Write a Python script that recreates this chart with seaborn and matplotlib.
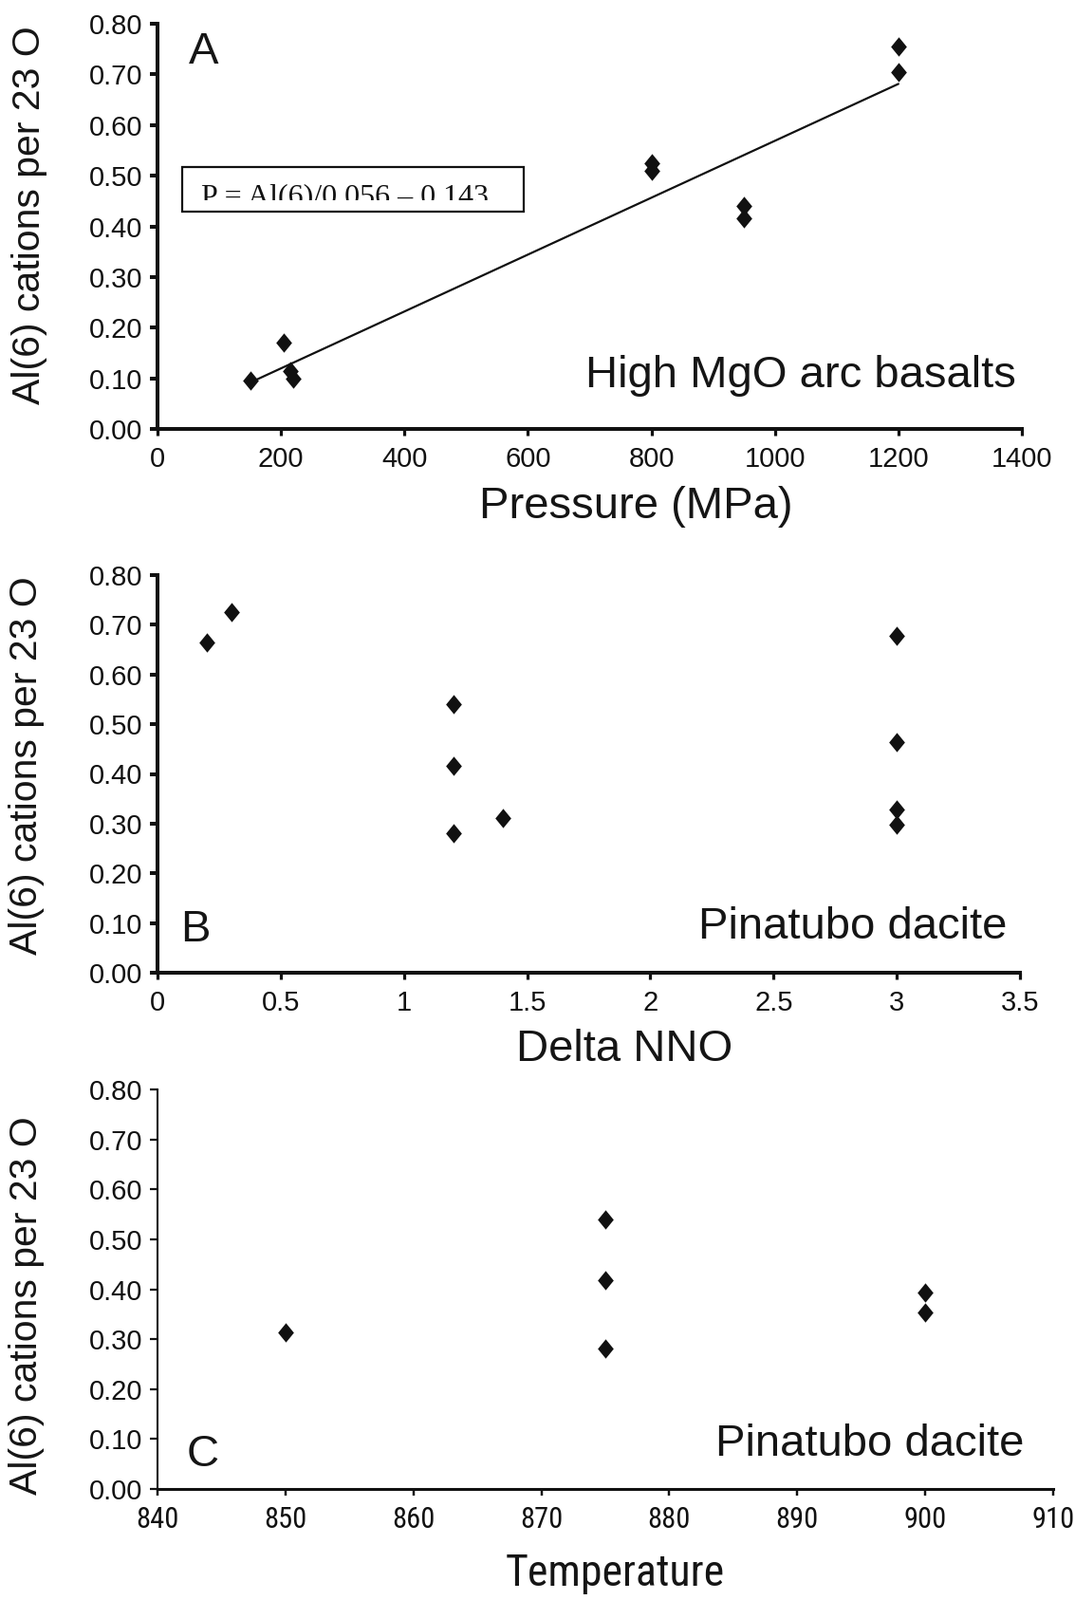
import matplotlib
matplotlib.use("Agg")
import matplotlib.pyplot as plt
import seaborn as sns
import pandas as pd
from matplotlib import font_manager
from matplotlib.patches import Rectangle
from matplotlib.transforms import Bbox

# ---------------- data ----------------
# Panel A: High MgO arc basalts
pressure_mpa = [150, 205, 215, 220, 800, 800, 950, 950, 1200, 1200]
al6_a = [0.095, 0.170, 0.115, 0.100, 0.525, 0.510, 0.440, 0.415, 0.755, 0.705]

# Panel B: Pinatubo dacite vs Delta NNO
delta_nno = [0.2, 0.3, 1.2, 1.2, 1.2, 1.4, 3.0, 3.0, 3.0, 3.0]
al6_b = [0.665, 0.725, 0.540, 0.416, 0.281, 0.311, 0.677, 0.464, 0.329, 0.297]

# Panel C: Pinatubo dacite vs Temperature
temperature = [850, 875, 875, 875, 900, 900]
al6_c = [0.313, 0.540, 0.418, 0.282, 0.394, 0.353]

y_ticks = [0.0, 0.1, 0.2, 0.3, 0.4, 0.5, 0.6, 0.7, 0.8]
y_tick_labels = ["0.00", "0.10", "0.20", "0.30", "0.40", "0.50", "0.60", "0.70", "0.80"]
x_ticks_a = [0, 200, 400, 600, 800, 1000, 1200, 1400]
x_ticks_b = [0, 0.5, 1, 1.5, 2, 2.5, 3, 3.5]
x_tick_labels_b = ["0", "0.5", "1", "1.5", "2", "2.5", "3", "3.5"]
x_ticks_c = [840, 850, 860, 870, 880, 890, 900, 910]

y_label = "Al(6) cations per 23 O"
equation = "P = Al(6)/0.056 \u2013 0.143"

df_a = pd.DataFrame({"P": pressure_mpa, "Al": al6_a})
df_b = pd.DataFrame({"NNO": delta_nno, "Al": al6_b})
df_c = pd.DataFrame({"T": temperature, "Al": al6_c})

# ---------------- style ----------------
sns.set_style("ticks")
REG = ["Liberation Sans", "DejaVu Sans"]
installed = {f.name for f in font_manager.fontManager.ttflist}
narrow_name = None
for cand in ["Liberation Sans Narrow", "Arial Narrow", "Roboto Condensed",
             "Open Sans Condensed", "DejaVu Sans Condensed"]:
    if cand in installed:
        narrow_name = cand
        break
if narrow_name:
    NARROW = [narrow_name, "Liberation Sans", "DejaVu Sans"]
    c_tick_size, c_label_size = 22, 33
else:
    NARROW = REG
    c_tick_size, c_label_size = 19, 28.5

plt.rcParams["font.family"] = REG
plt.rcParams["text.color"] = "#151515"
plt.rcParams["axes.labelcolor"] = "#151515"

W, H = 1133, 1686
fig = plt.figure(figsize=(W / 100, H / 100), dpi=100, facecolor="white")


def add_axes(left, right, top, bottom):
    return fig.add_axes([left / W, 1 - bottom / H, (right - left) / W, (bottom - top) / H])


ax_a = add_axes(166, 1077, 25, 452)
ax_b = add_axes(166, 1075, 606, 1025)
ax_c = add_axes(166, 1110, 1148, 1569)

diamond = [(0, 1), (0.82, 0), (0, -1), (-0.82, 0), (0, 1)]
mk = dict(marker=diamond, s=215, color="#111111", linewidth=0, legend=False)

sns.scatterplot(data=df_a, x="P", y="Al", ax=ax_a, **mk)
sns.regplot(data=df_a, x="P", y="Al", ax=ax_a, scatter=False, ci=None,
            truncate=True, line_kws=dict(color="#111111", lw=1.6))
sns.scatterplot(data=df_b, x="NNO", y="Al", ax=ax_b, **mk)
sns.scatterplot(data=df_c, x="T", y="Al", ax=ax_c, **mk)


def style_axis(ax, xlim, xticks, xticklabels, xfont, xsize, spine_left, spine_bottom):
    ax.set_xlim(*xlim)
    ax.set_ylim(0, 0.8)
    ax.set_yticks(y_ticks)
    ax.set_yticklabels(y_tick_labels, fontsize=21, family=REG)
    ax.set_xticks(xticks)
    ax.set_xticklabels(xticklabels, fontsize=xsize, family=xfont)
    for s in ["top", "right"]:
        ax.spines[s].set_visible(False)
    ax.spines["left"].set_linewidth(spine_left)
    ax.spines["bottom"].set_linewidth(spine_bottom)
    ax.spines["left"].set_color("#111111")
    ax.spines["bottom"].set_color("#111111")
    ax.tick_params(axis="y", direction="out", length=6, width=max(spine_left, 1.6),
                   pad=5, colors="#111111")
    ax.tick_params(axis="x", direction="out", length=5, width=max(spine_bottom * 0.8, 1.6),
                   pad=8, colors="#111111")
    ax.set_facecolor("white")


style_axis(ax_a, (0, 1400), x_ticks_a, [str(v) for v in x_ticks_a], REG, 21, 2.9, 2.9)
style_axis(ax_b, (0, 3.5), x_ticks_b, x_tick_labels_b, REG, 21, 2.9, 2.9)
style_axis(ax_c, (840, 910), x_ticks_c, [str(v) for v in x_ticks_c], NARROW, c_tick_size, 1.5, 2.2)

for ax in (ax_a, ax_b, ax_c):
    for coll in ax.collections:
        coll.set_clip_on(False)

# axis labels
ax_a.set_ylabel(y_label, fontsize=29.5, family=REG)
ax_b.set_ylabel(y_label, fontsize=29.5, family=REG)
ax_c.set_ylabel(y_label, fontsize=29.5, family=REG)
ax_a.yaxis.set_label_coords(-0.127, 0.527)
ax_b.yaxis.set_label_coords(-0.131, 0.52)
ax_c.yaxis.set_label_coords(-0.126, 0.46)

ax_a.set_xlabel("Pressure (MPa)", fontsize=34, family=REG)
ax_b.set_xlabel("Delta NNO", fontsize=34, family=REG)
ax_c.set_xlabel("Temperature", fontsize=c_label_size, family=NARROW)
ax_a.xaxis.set_label_coords(0.554, -0.14)
ax_b.xaxis.set_label_coords(0.541, -0.14)
ax_c.xaxis.set_label_coords(0.511, -0.16)
for ax in (ax_a, ax_b, ax_c):
    ax.xaxis.label.set_verticalalignment("top")

# panel annotations
ax_a.text(0.036, 0.902, "A", transform=ax_a.transAxes, fontsize=34, va="baseline", ha="left")
ax_a.text(0.993, 0.103, "High MgO arc basalts", transform=ax_a.transAxes, fontsize=34,
          va="baseline", ha="right")
ax_b.text(0.027, 0.079, "B", transform=ax_b.transAxes, fontsize=34, va="baseline", ha="left")
ax_b.text(0.985, 0.086, "Pinatubo dacite", transform=ax_b.transAxes, fontsize=34,
          va="baseline", ha="right")
ax_c.text(0.032, 0.057, "C", transform=ax_c.transAxes, fontsize=34, va="baseline", ha="left")
ax_c.text(0.968, 0.083, "Pinatubo dacite", transform=ax_c.transAxes, fontsize=34,
          va="baseline", ha="right")

# equation box (text clipped at its lower part as in the original)
box = Rectangle((192 / W, 1 - 223 / H), 360 / W, 47 / H, transform=fig.transFigure,
                fill=True, facecolor="white", edgecolor="#111111", lw=1.6, zorder=5)
fig.add_artist(box)
t = fig.text(212 / W, 1 - 215 / H, equation, fontsize=23,
             family=["Liberation Serif", "DejaVu Serif"], va="baseline", ha="left",
             color="#111111", zorder=6)
t.set_clip_box(Bbox([[192, H - 211], [552, H - 176]]))
t.set_clip_on(True)

fig.savefig("out.png", dpi=100, facecolor="white")
